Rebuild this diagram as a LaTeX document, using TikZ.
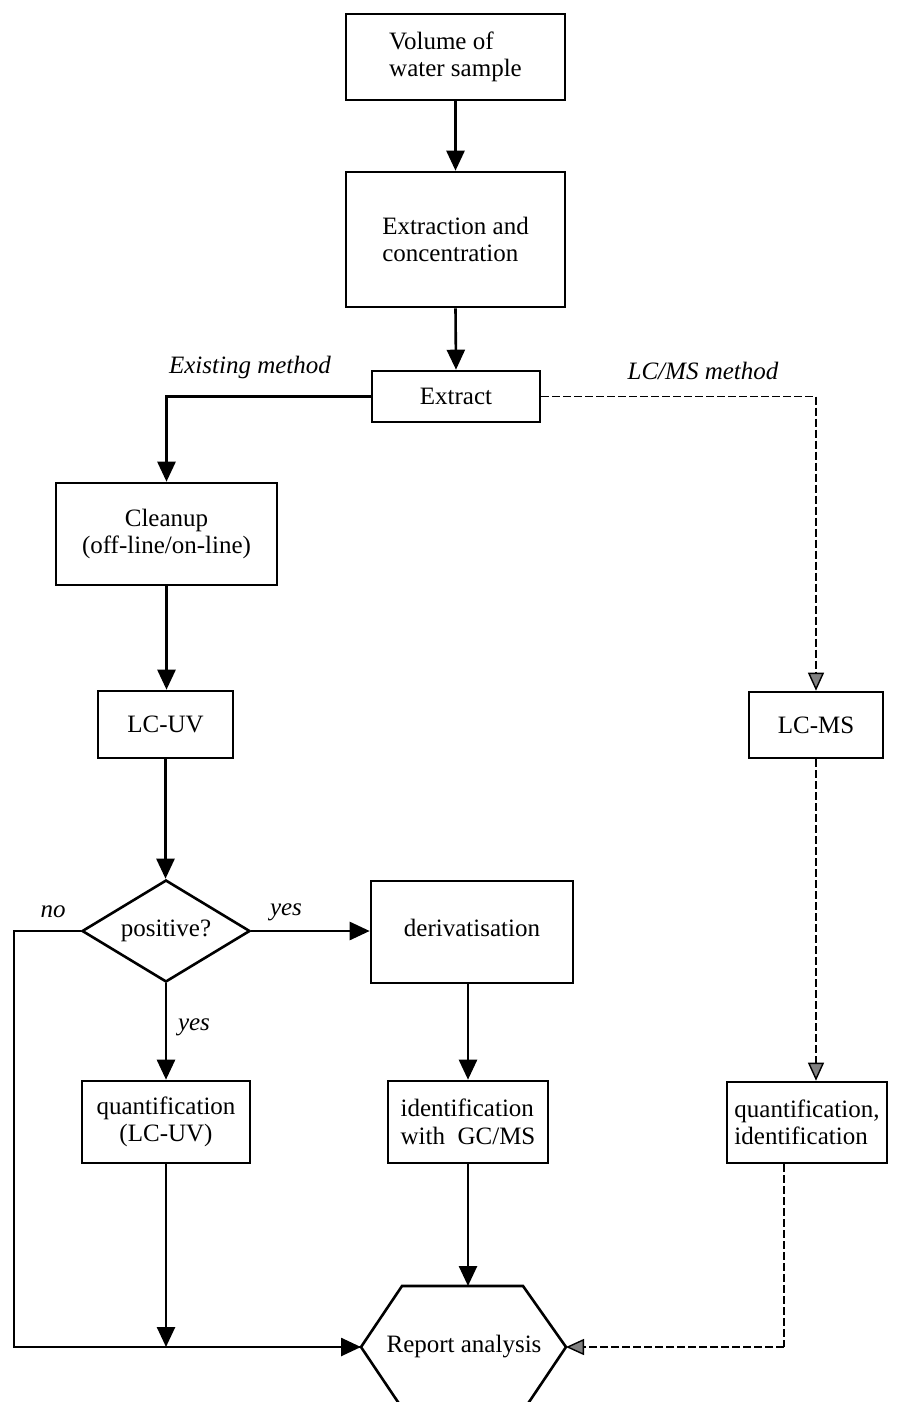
\documentclass[tikz,border=0pt]{standalone}
\usepackage{fontspec}
\setmainfont{Liberation Serif}
\usetikzlibrary{arrows.meta,shapes.geometric}
\begin{document}
\begin{tikzpicture}[x=0.5pt,y=-0.5pt,
 box/.style={draw,line width=1.3pt,inner sep=0pt,font=\fontsize{12.5}{13.8}\selectfont},
 lbl/.style={font=\fontsize{12.5}{13.8}\selectfont\itshape},
 conn/.style={line width=1.3pt,-{Triangle[length=10pt,width=9pt]}},
 plainline/.style={line width=1.3pt},
 dconn/.style={line width=0.9pt,dash pattern=on 4pt off 1.5pt,-{Triangle[length=9pt,width=8pt,fill=black!50,line width=0.7pt]}},
 dline/.style={line width=0.9pt,dash pattern=on 4pt off 1.5pt},
]
\useasboundingbox (0,0) rectangle (898,1402);
\clip (0,0) rectangle (898,1402);

% boxes
\node[box,minimum width=109.5pt,minimum height=43pt,align=left] (vol) at (455.5,57) {Volume of\\ water sample};
\node[box,minimum width=109.5pt,minimum height=67.5pt,align=left] (ext) at (455.5,239.5) {Extraction and\\concentration};
\node[box,minimum width=84pt,minimum height=25.5pt] (extract) at (456,396.5) {Extract};
\node[box,minimum width=110.5pt,minimum height=51pt,align=center] (clean) at (166.5,534) {Cleanup\\(off-line/on-line)};
\node[box,minimum width=67.5pt,minimum height=33.5pt] (lcuv) at (165.5,724.5) {LC-UV};
\node[box,shape=diamond,aspect=1.65,minimum width=84pt,minimum height=51pt] (pos) at (166,931) {positive?};
\node[box,minimum width=101pt,minimum height=51pt,text depth=0pt] (deriv) at (472,932) {\raisebox{4pt}{derivatisation}};
\node[box,minimum width=84pt,minimum height=41pt,align=center] (quant) at (166,1122) {quantification\\(LC-UV)};
\node[box,minimum width=80pt,minimum height=41pt,align=left] (ident) at (468,1122) {identification\\with~ GC/MS};
\node[box,minimum width=67pt,minimum height=33pt] (lcms) at (816,725) {LC-MS};
\node[box,minimum width=80pt,minimum height=40.5pt,align=left] (qi) at (807,1122.5) {quantification,\\identification};

% hexagon
\coordinate (hl) at (361,1347);
\coordinate (hr) at (566,1347);
\coordinate (htl) at (402,1286);
\coordinate (htr) at (523,1286);
\draw[plainline,line join=miter] (hl) -- (htl) -- (htr) -- (hr) -- (525,1408) -- (402,1408) -- cycle;
\node[font=\fontsize{12.5}{13.8}\selectfont] (report) at (464,1347) {Report analysis};

% labels
\node[lbl] (lexist) at (250,367) {Existing method};
\node[lbl] (llcms) at (703,371) {LC/MS method};
\node[lbl] (lno) at (53,912) {no};
\node[lbl] (lyes1) at (286,912) {yes};
\node[lbl] (lyes2) at (194,1027) {yes};

% helper coordinates
\coordinate (nocorner) at (14,931);
\coordinate (nobottom) at (14,1347);
\coordinate (lccorner) at (816,396.5);
\path (qi.south) ++(-23,0) coordinate (qout);
\coordinate (qcorner) at (784,1347);

% connectors
\draw[conn] (vol.south) -- (ext.north);
\draw[conn] (ext.south) -- (extract.north);
\draw[conn] (extract.west) -| (clean.north);
\draw[conn] (clean.south) -- (clean.south |- lcuv.north);
\draw[conn] (lcuv.south) -- (lcuv.south |- pos.north);
\draw[conn] (pos.east) -- (pos.east -| deriv.west);
\draw[conn] (pos.south) -- (pos.south |- quant.north);
\draw[conn] (deriv.south -| ident.north) -- (ident.north);
\draw[conn] (ident.south) -- (ident.south |- htl);
\draw[conn] (quant.south) -- (quant.south |- hl);
\draw[plainline,line join=miter] (pos.west) -- (nocorner) -- (nobottom) -- (hl);
\draw[conn] (nobottom) -- (hl);

\draw[dline] (extract.east) -- (lccorner);
\draw[dconn] (lccorner) -- (lcms.north);
\draw[dconn] (lcms.south) -- (lcms.south |- qi.north);
\draw[dline] (qout) -- (qcorner);
\draw[dconn] (qcorner) -- (hr);
\end{tikzpicture}
\end{document}
